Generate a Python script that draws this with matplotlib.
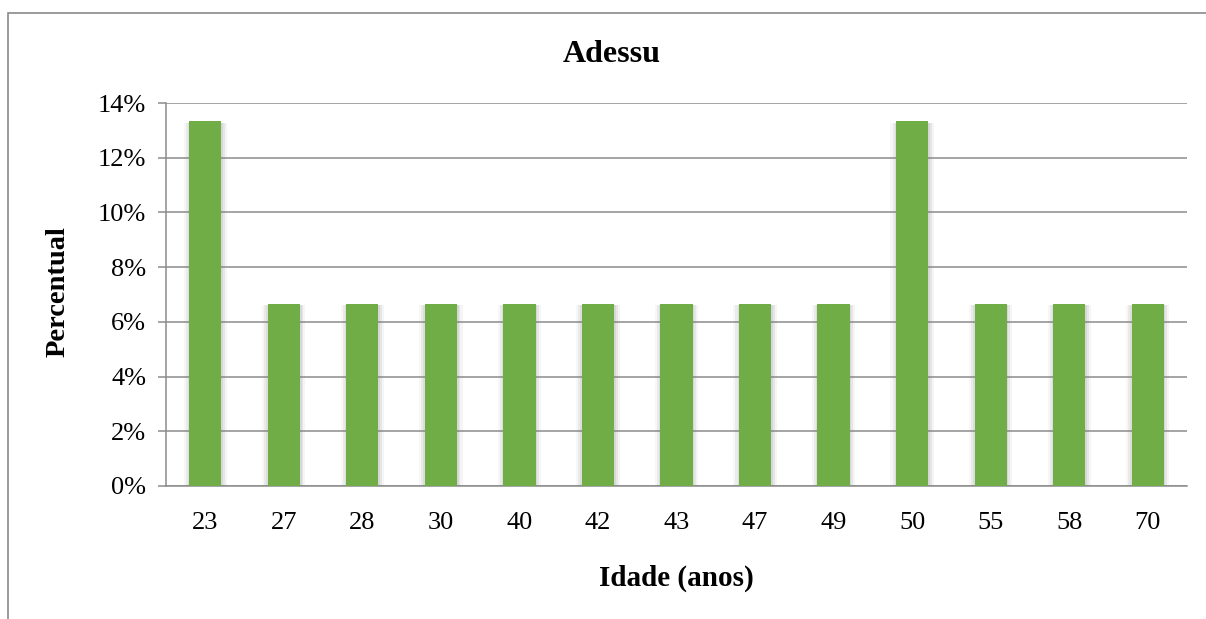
import numpy as np
import matplotlib.pyplot as plt
import matplotlib.patheffects as pe
from matplotlib.patches import Rectangle
from matplotlib.ticker import FuncFormatter

plt.rcParams["font.family"] = ["Liberation Serif", "DejaVu Serif"]

# age groups and share of respondents (%)
ages = ["23", "27", "28", "30", "40", "42", "43", "47", "49", "50", "55", "58", "70"]
percent = [13.33, 6.67, 6.67, 6.67, 6.67, 6.67, 6.67, 6.67, 6.67, 13.33, 6.67, 6.67, 6.67]
y_ticks = [0, 2, 4, 6, 8, 10, 12, 14]

BAR_GREEN = "#70AD47"
GRID_GRAY = "#8C8C8C"
W, H = 1206, 619

fig = plt.figure(figsize=(W / 100, H / 100), dpi=100)
ax = fig.add_axes([166 / W, 1 - 486 / H, (1187 - 166) / W, (486 - 103) / H])

# chart frame (runs off the right and bottom edges)
fig.patches.append(Rectangle((8 / W, -0.1), 1.2, 1 - 13 / H + 0.1,
                             transform=fig.transFigure, fill=False,
                             edgecolor="#8A8A8A", linewidth=1.2))

x = np.arange(len(ages))
bars = ax.bar(x, percent, width=0.41, color=BAR_GREEN, zorder=3)
# soft glow around each bar
soft = [pe.SimplePatchShadow(offset=(dx, -1), shadow_rgbFace="#808080", alpha=a)
        for dx, a in [(-4, 0.06), (4, 0.08), (-2.5, 0.10), (2.5, 0.12), (-1, 0.12), (1.2, 0.14)]]
for b in bars:
    b.set_path_effects(soft + [pe.Normal()])

ax.set_xlim(-0.5, len(ages) - 0.5)
ax.set_ylim(0, 14)
ax.set_yticks(y_ticks)
ax.yaxis.set_major_formatter(FuncFormatter(lambda v, _: f"{v:.0f}%"))
ax.set_xticks(x)
ax.set_xticklabels(ages)

ax.grid(axis="y", color=GRID_GRAY, linewidth=1.1, zorder=0)
for side in ["top", "right"]:
    ax.spines[side].set_visible(False)
for side in ["left", "bottom"]:
    ax.spines[side].set_color(GRID_GRAY)
    ax.spines[side].set_linewidth(1.1)

ax.tick_params(axis="y", length=5.8, width=1.1, color=GRID_GRAY, labelsize=19, pad=8.5)
ax.tick_params(axis="x", length=0, labelsize=19, pad=19)

fig.text(612 / W, 1 - 54 / H, "Adessu", fontsize=23, fontweight="bold",
         ha="center", va="center")
fig.text(58 / W, 1 - 292 / H, "Percentual", fontsize=20.5, fontweight="bold",
         rotation=90, ha="center", va="center")
fig.text(676 / W, 1 - 578 / H, "Idade (anos)", fontsize=21, fontweight="bold",
         ha="center", va="center")

fig.savefig("out.png", dpi=100)
